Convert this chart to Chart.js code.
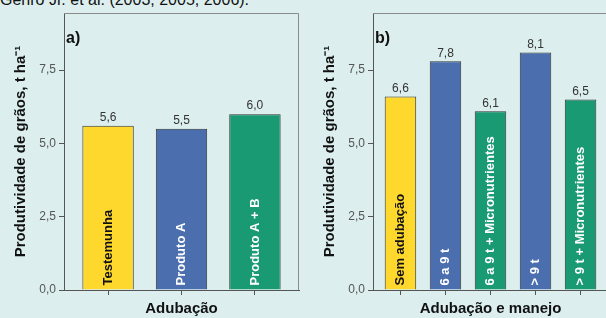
<!DOCTYPE html>
<html>
<head>
<meta charset="utf-8">
<script src="https://cdn.jsdelivr.net/npm/chart.js@4.4.1/dist/chart.umd.min.js"></script>
<style>
  body { margin: 0; width: 606px; height: 318px; overflow: hidden; background: #dcefee; position: relative; font-family: "Liberation Sans", Arial, sans-serif; }
  #ref { position: absolute; left: 0; top: -8.5px; font-size: 16px; line-height: 16px; color: #111; white-space: nowrap; }
  .panel { position: absolute; top: 0; width: 303px; height: 318px; }
</style>
</head>
<body>
<div id="ref">Genro Jr. et al. (2003, 2005, 2006).</div>
<div class="panel" style="left:0"><canvas id="chartA" width="303" height="318"></canvas></div>
<div class="panel" style="left:309px"><canvas id="chartB" width="303" height="318"></canvas></div>
<script>
const catsA = ['Testemunha', 'Produto A', 'Produto A + B'];
const valsA = [5.6, 5.5, 6.0];
const colorsA = ['#fed82c', '#4a6eae', '#1a9a73'];

const catsB = ['Sem adubação', '6 a 9 t', '6 a 9 t + Micronutrientes', '> 9 t', '> 9 t + Micronutrientes'];
const valsB = [6.6, 7.8, 6.1, 8.1, 6.5];
const colorsB = ['#fed82c', '#4a6eae', '#1a9a73', '#4a6eae', '#1a9a73'];

const yTicks = [0, 2.5, 5, 7.5];
const yTitle = 'Produtividade de grãos, t ha⁻¹';

const fmt = v => v.toFixed(1).replace('.', ',');
const FONT = '"Liberation Sans", Arial, sans-serif';

const decor = {
    id: 'decor',
    afterDatasetsDraw(chart, args, opts) {
        const ctx = chart.ctx;
        const area = chart.chartArea;
        ctx.save();
        // frame top and right
        ctx.strokeStyle = '#8a8a8a';
        ctx.lineWidth = 1;
        ctx.beginPath();
        ctx.moveTo(area.left, area.top + 0.5);
        ctx.lineTo(area.right - 0.5, area.top + 0.5);
        ctx.lineTo(area.right - 0.5, area.bottom);
        ctx.stroke();

        // panel letter
        ctx.fillStyle = '#111';
        ctx.font = 'bold 16px ' + FONT;
        ctx.textAlign = 'left';
        ctx.textBaseline = 'alphabetic';
        ctx.fillText(opts.letter, area.left + 2, 43);

        const meta = chart.getDatasetMeta(0);
        meta.data.forEach((bar, i) => {
            const v = chart.data.datasets[0].data[i].y;
            ctx.fillStyle = '#333';
            ctx.font = '12px ' + FONT;
            ctx.textAlign = 'center';
            ctx.textBaseline = 'bottom';
            ctx.fillText(fmt(v), bar.x, bar.y - 2);

            ctx.save();
            ctx.translate(bar.x, bar.base - 4);
            ctx.rotate(-Math.PI / 2);
            ctx.fillStyle = i === 0 ? '#111' : '#fff';
            ctx.font = 'bold 13px ' + FONT;
            ctx.textAlign = 'left';
            ctx.textBaseline = 'middle';
            ctx.fillText(opts.cats[i], 0, 0);
            ctx.restore();
        });
        ctx.restore();
    }
};

function makeChart(id, cats, vals, colors, letter, xTitle, xMin, xMax) {
    return new Chart(document.getElementById(id), {
        type: 'bar',
        data: {
            datasets: [{
                data: vals.map((v, i) => ({ x: i, y: v })),
                backgroundColor: colors,
                borderColor: '#333',
                borderWidth: 1,
                barPercentage: 0.7,
                categoryPercentage: 1
            }]
        },
        options: {
            responsive: false,
            animation: false,
            layout: { padding: { left: 0, top: 13, right: 4, bottom: 0 } },
            plugins: {
                legend: { display: false },
                tooltip: { enabled: false },
                decor: { letter: letter, cats: cats }
            },
            scales: {
                x: {
                    type: 'linear',
                    min: xMin,
                    max: xMax,
                    offset: false,
                    afterBuildTicks: s => { s.ticks = cats.map((c, i) => ({ value: i })); },
                    afterFit: s => { s.height = 28; },
                    ticks: { display: false },
                    grid: { display: true, offset: false, drawOnChartArea: false, drawTicks: true, tickLength: 5, color: '#555' },
                    border: { display: true, color: '#555', width: 1 },
                    title: { display: true, text: xTitle, color: '#111', font: { family: FONT, size: 15, weight: 'bold' }, padding: { top: 0, bottom: 0 } }
                },
                y: {
                    min: 0,
                    max: 9.45,
                    afterBuildTicks: s => { s.ticks = yTicks.map(v => ({ value: v })); },
                    afterFit: s => { s.width = 64; },
                    ticks: { callback: v => fmt(v), color: '#555', padding: 3, font: { family: FONT, size: 12 } },
                    grid: { display: true, drawOnChartArea: false, drawTicks: true, tickLength: 5, color: '#555' },
                    border: { display: true, color: '#555', width: 1 },
                    title: { display: true, text: yTitle, color: '#111', font: { family: FONT, size: 15, weight: 'bold' }, padding: { top: 11.5, bottom: 0 } }
                }
            }
        },
        plugins: [decor]
    });
}

makeChart('chartA', catsA, valsA, colorsA, 'a)', 'Adubação', -0.6, 2.6);
makeChart('chartB', catsB, valsB, colorsB, 'b)', 'Adubação e manejo', -0.61, 4.61);
</script>
</body>
</html>
